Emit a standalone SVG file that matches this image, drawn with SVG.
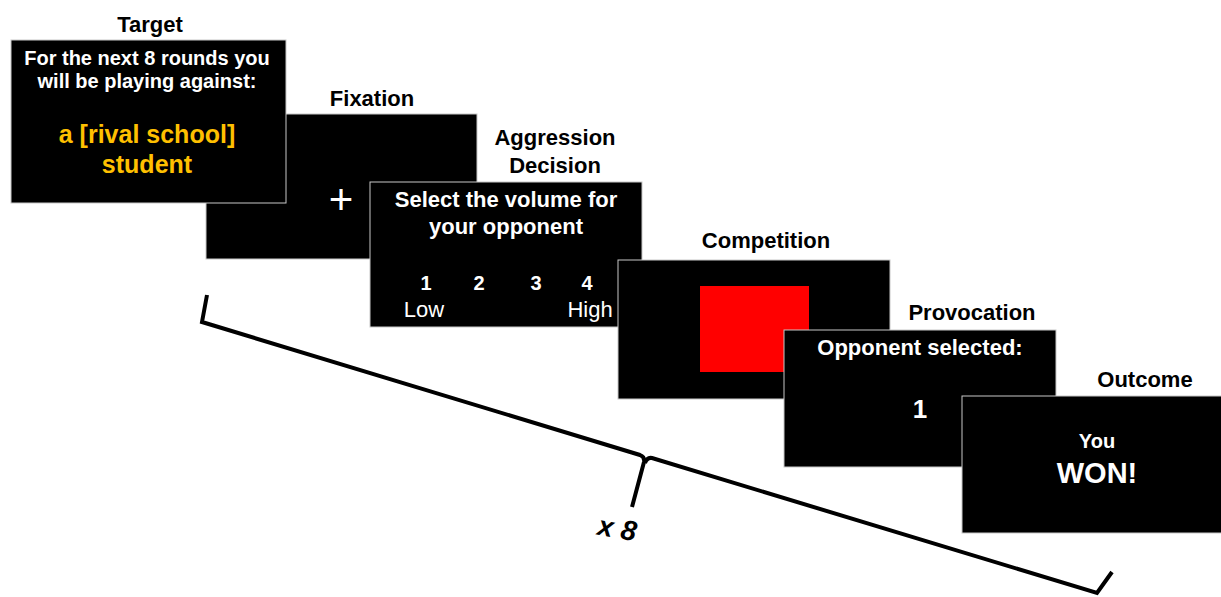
<svg xmlns="http://www.w3.org/2000/svg" width="1221" height="597" viewBox="0 0 1221 597">
<style>
.scr{fill:#000;stroke:#c8c8c8;stroke-width:1}
.lbl{font-family:"Liberation Sans",Arial,sans-serif;font-weight:bold;font-size:22px;fill:#000;text-anchor:middle}
.w{font-family:"Liberation Sans",Arial,sans-serif;font-weight:bold;fill:#fff;text-anchor:middle}
.wr{font-family:"Liberation Sans",Arial,sans-serif;fill:#fff;text-anchor:middle}
.gold{font-family:"Liberation Sans",Arial,sans-serif;font-weight:bold;fill:#FFC000;text-anchor:middle;font-size:25px}
.br{fill:none;stroke:#000;stroke-width:4;stroke-linejoin:miter}
</style>
<rect width="1221" height="597" fill="#fff"/>
<g id="fixation">
<text class="lbl" x="372" y="106">Fixation</text>
<rect class="scr" x="206" y="114" width="271" height="145"/>
<text class="wr" x="341" y="214" font-size="42">+</text>
</g>
<g id="target">
<text class="lbl" x="150" y="32">Target</text>
<rect class="scr" x="11" y="40" width="275" height="163"/>
<text class="w" x="147" y="65" font-size="20">For the next 8 rounds you</text>
<text class="w" x="147" y="88" font-size="20">will be playing against:</text>
<text class="gold" x="147" y="143">a [rival school]</text>
<text class="gold" x="147" y="173">student</text>
</g>
<g id="aggression">
<text class="lbl" x="555" y="145">Aggression</text>
<text class="lbl" x="555" y="173">Decision</text>
<rect class="scr" x="370" y="182" width="272" height="145"/>
<text class="w" x="506" y="207" font-size="22">Select the volume for</text>
<text class="w" x="506" y="234" font-size="22">your opponent</text>
<text class="w" x="426" y="290" font-size="20">1</text>
<text class="w" x="479" y="290" font-size="20">2</text>
<text class="w" x="536" y="290" font-size="20">3</text>
<text class="w" x="587" y="290" font-size="20">4</text>
<text class="wr" x="424" y="317" font-size="22">Low</text>
<text class="wr" x="590" y="317" font-size="22">High</text>
</g>
<g id="competition">
<text class="lbl" x="766" y="248">Competition</text>
<rect class="scr" x="618" y="260" width="272" height="139"/>
<rect x="700" y="286" width="109" height="86" fill="#ff0000"/>
</g>
<g id="provocation">
<text class="lbl" x="972" y="320">Provocation</text>
<rect class="scr" x="784" y="330" width="272" height="137"/>
<text class="w" x="920" y="355" font-size="22">Opponent selected:</text>
<text class="w" x="920" y="418" font-size="26">1</text>
</g>
<g id="outcome">
<text class="lbl" x="1145" y="387">Outcome</text>
<rect class="scr" x="962" y="396" width="262" height="137"/>
<text class="w" x="1097" y="448" font-size="20">You</text>
<text class="w" x="1097" y="483" font-size="29">WON!</text>
</g>
<g id="connectors">
<path class="br" d="M207,295 L202,322 L640,455 Q645,457 644,462 L632,507"/>
<path class="br" d="M645,463 Q647,457 652,458 L1097,593 L1112,572"/>
<text x="617" y="538" transform="rotate(10 617 530)" font-family="Liberation Sans,Arial,sans-serif" font-weight="bold" font-style="italic" font-size="28" fill="#000" text-anchor="middle">x 8</text>
</g>
</svg>
